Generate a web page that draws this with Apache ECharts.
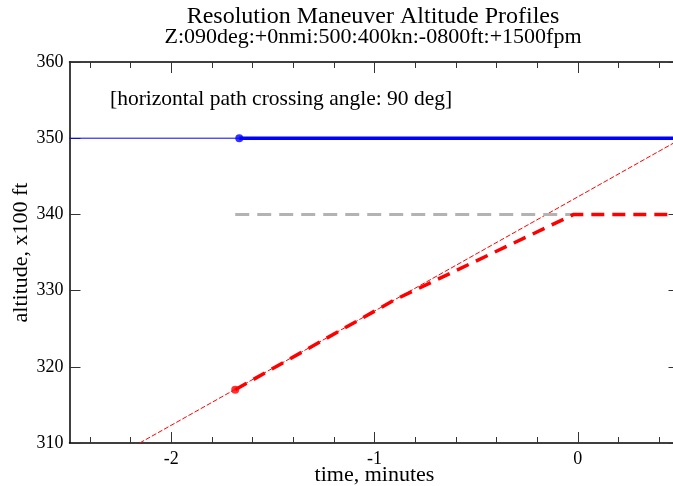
<!DOCTYPE html>
<html>
<head>
<meta charset="utf-8">
<script src="https://cdn.jsdelivr.net/npm/echarts@6/dist/echarts.min.js"></script>
<style>html,body{margin:0;padding:0;background:#fff;}#c{width:673px;height:486px;}</style>
</head>
<body>
<div id="c"></div>
<script>
// ---- data ----
const xMajorTicks = [-2, -1, 0];
const xMinorTicks = [-2.4, -2.2, -1.8, -1.6, -1.4, -1.2, -0.8, -0.6, -0.4, -0.2, 0.2, 0.4];
const yTicks = [310, 320, 330, 340, 350, 360];

// ownship (blue): thin before maneuver start, thick afterwards
const blueThinT = [-2.5, -1.665];
const blueThinAlt = [350, 350];
const blueThickT = [-1.665, 0.5];
const blueThickAlt = [350, 350];
const blueDotT = [-1.665];
const blueDotAlt = [350];

// intruder resolution profile (red thick dashed)
const redT = [-1.685, -0.9, -0.02, 0.5];
const redAlt = [317, 328.8, 340, 340];
const redDotT = [-1.685];
const redDotAlt = [317];

// projected climb (+1500 fpm), thin red dashed
const projT = [-2.155, 0.5];
const projAlt = [310, 349.8];

// target level (grey dashed)
const targetT = [-1.685, -0.02];
const targetAlt = [340, 340];

const pairs = (xs, ys) => xs.map((x, i) => [x, ys[i]]);
const SERIF = 'Liberation Serif';

const chart = echarts.init(document.getElementById('c'), null, {renderer: 'canvas'});

function xAx(position, ticks, len, showLine, showLabel, extra) {
  return Object.assign({
    type: 'value', min: -2.5, max: 0.5, position: position,
    axisLine: {show: showLine, onZero: false, lineStyle: {color: '#000', width: 1.5}},
    axisTick: {show: true, inside: true, length: len, customValues: ticks, lineStyle: {color: '#333', width: 1}},
    axisLabel: {show: showLabel, customValues: ticks, fontFamily: SERIF, fontSize: 18, color: '#000', margin: 7},
    splitLine: {show: false}
  }, extra || {});
}

const option = {
  animation: false,
  backgroundColor: '#fff',
  grid: {left: 69.5, top: 62, width: 610, height: 381, outerBoundsMode: 'none', containLabel: false},
  graphic: [
    {type: 'text', x: 373, y: 5, style: {text: 'Resolution Maneuver Altitude Profiles', font: '24px ' + SERIF, fill: '#000', textAlign: 'center', textVerticalAlign: 'top'}},
    {type: 'text', x: 373, y: 26, style: {text: 'Z:090deg:+0nmi:500:400kn:-0800ft:+1500fpm', font: '22px ' + SERIF, fill: '#000', textAlign: 'center', textVerticalAlign: 'top'}},
    {type: 'text', x: 110, y: 88, style: {text: '[horizontal path crossing angle: 90 deg]', font: '21.5px ' + SERIF, fill: '#000', textAlign: 'left', textVerticalAlign: 'top'}}
  ],
  xAxis: [
    xAx('bottom', xMajorTicks, 11, true, true, {
      name: 'time, minutes', nameLocation: 'middle', nameGap: 21, nameMoveOverlap: false,
      nameTextStyle: {fontFamily: SERIF, fontSize: 22, color: '#000'}
    }),
    xAx('bottom', xMinorTicks, 6, false, false),
    xAx('top', xMajorTicks, 11, true, false),
    xAx('top', xMinorTicks, 6, false, false)
  ],
  yAxis: [
    {
      type: 'value', min: 310, max: 360, interval: 10, position: 'left',
      axisLine: {show: true, onZero: false, lineStyle: {color: '#000', width: 1.5}},
      axisTick: {show: true, inside: true, length: 11, lineStyle: {color: '#333', width: 1}},
      axisLabel: {show: true, fontFamily: SERIF, fontSize: 18, color: '#000', margin: 6,
                  customValues: yTicks},
      splitLine: {show: false},
      name: 'altitude, x100 ft', nameLocation: 'middle', nameGap: 37, nameMoveOverlap: false,
      nameTextStyle: {fontFamily: SERIF, fontSize: 22, color: '#000'}
    },
    {
      type: 'value', min: 310, max: 360, interval: 10, position: 'right',
      axisLine: {show: true, onZero: false, lineStyle: {color: '#000', width: 1.5}},
      axisTick: {show: true, inside: true, length: 11, lineStyle: {color: '#333', width: 1}},
      axisLabel: {show: false},
      splitLine: {show: false}
    }
  ],
  series: [
    {type: 'line', name: 'proj', data: pairs(projT, projAlt), showSymbol: false, symbol: 'none',
     lineStyle: {color: '#ff0000', width: 1, type: [5, 2]}, z: 2},
    {type: 'line', name: 'target', data: pairs(targetT, targetAlt), showSymbol: false, symbol: 'none',
     lineStyle: {color: '#b3b3b3', width: 3, type: [14, 8]}, z: 3},
    {type: 'line', name: 'ownThin', data: pairs(blueThinT, blueThinAlt), showSymbol: false, symbol: 'none',
     lineStyle: {color: '#0000ff', width: 1}, z: 3},
    {type: 'line', name: 'ownThick', data: pairs(blueThickT, blueThickAlt), showSymbol: false, symbol: 'none',
     lineStyle: {color: '#0000ff', width: 3.5}, z: 4},
    {type: 'line', name: 'intruder', data: pairs(redT, redAlt), showSymbol: false, symbol: 'none',
     lineStyle: {color: '#ff0000', width: 3.5, type: [13, 8]}, z: 4},
    {type: 'scatter', name: 'ownDot', data: pairs(blueDotT, blueDotAlt), symbolSize: 8,
     itemStyle: {color: '#0000ff'}, z: 5},
    {type: 'scatter', name: 'intDot', data: pairs(redDotT, redDotAlt), symbolSize: 8,
     itemStyle: {color: '#ff0000'}, z: 5}
  ]
};
chart.setOption(option);
</script>
</body>
</html>
